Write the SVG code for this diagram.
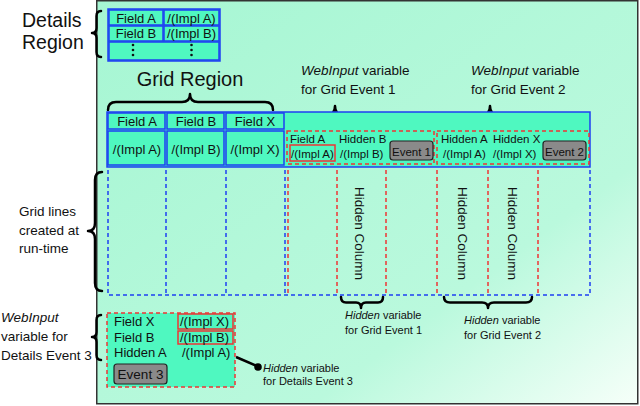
<svg xmlns="http://www.w3.org/2000/svg" width="640" height="406" viewBox="0 0 640 406">
<defs>
<linearGradient id="bg" x1="0" y1="0" x2="1" y2="1">
<stop offset="0" stop-color="#a6f6d3"/>
<stop offset="0.7" stop-color="#baf9dd"/>
<stop offset="1" stop-color="#f6fff9"/>
</linearGradient>
<style>
text{font-family:"Liberation Sans",Arial,sans-serif;fill:#111}
.aq{fill:#4ff8c0}
.cell{fill:#4ff8c0;stroke:#1e3ff2;stroke-width:1.5}
.bl{fill:none;stroke:#1e3ff2;stroke-width:1.5}
.bd{fill:none;stroke:#1e3ff2;stroke-width:1.5;stroke-dasharray:4 3}
.rd{fill:none;stroke:#ee3535;stroke-width:1.5;stroke-dasharray:4 3}
.rs{fill:none;stroke:#ee3535;stroke-width:1.5}
.br{fill:none;stroke:#000;stroke-width:2.5;stroke-linecap:round;stroke-linejoin:round}
.btn{fill:#8a8a8a;stroke:#222;stroke-width:1.2}
.f13{font-size:13px}
.f115{font-size:11.5px}
.f11{font-size:11px}
.f135{font-size:13.5px}
.c{text-anchor:middle}
</style>
</defs>
<rect x="96.75" y="0.75" width="541" height="403" fill="url(#bg)" stroke="#333" stroke-width="1.5"/>

<g id="labels">
<text x="22" y="27" style="font-size:19.5px">Details</text>
<text x="22" y="49" style="font-size:19.5px">Region</text>
<text x="190" y="86" class="c" style="font-size:20px">Grid Region</text>
<text x="301" y="75" class="f135"><tspan font-style="italic">WebInput</tspan> variable</text>
<text x="301" y="94" class="f135">for Grid Event 1</text>
<text x="471" y="75" class="f135"><tspan font-style="italic">WebInput</tspan> variable</text>
<text x="471" y="94" class="f135">for Grid Event 2</text>
<text x="19" y="216" class="f135">Grid lines</text>
<text x="19" y="234.5" class="f135">created at</text>
<text x="19" y="253" class="f135">run-time</text>
<text x="345" y="319" class="f11"><tspan font-style="italic">Hidden</tspan> variable</text>
<text x="345" y="334" class="f11">for Grid Event 1</text>
<text x="464" y="324" class="f11"><tspan font-style="italic">Hidden</tspan> variable</text>
<text x="464" y="339" class="f11">for Grid Event 2</text>
<text x="1" y="322" class="f135"><tspan font-style="italic">WebInput</tspan></text>
<text x="1" y="341" class="f135">variable for</text>
<text x="1" y="360" class="f135">Details Event 3</text>
<text x="263" y="372" class="f11"><tspan font-style="italic">Hidden</tspan> variable</text>
<text x="263" y="385" class="f11">for Details Event 3</text>
</g>

<g id="braces">
<path class="br" d="M101,11 Q96.5,11 96.5,16 L96.5,28 Q96.5,33 92,33 Q96.5,33 96.5,38 L96.5,52 Q96.5,57 101,57"/>
<path class="br" d="M108,110 Q108,102 116,102 L182,102 Q190,102 190,94 Q190,102 198,102 L265,102 Q273,102 273,110"/>
<path class="br" d="M288,123 Q288,115 296,115 L327,115 Q335,115 335,106 Q335,115 343,115 L374,115 Q382,115 382,123"/>
<path class="br" d="M443,123 Q443,115 451,115 L482,115 Q490,115 490,106 Q490,115 498,115 L530,115 Q538,115 538,123"/>
<path class="br" d="M102,172 Q95,172 95,180 L95,223 Q95,231 88,231 Q95,231 95,239 L95,283 Q95,291 102,291"/>
<path class="br" d="M341,297 Q341,302.5 346,302.5 L356,302.5 Q361,302.5 361,308 Q361,302.5 366,302.5 L378,302.5 Q383,302.5 383,297"/>
<path class="br" d="M444,297 Q444,302.5 450,302.5 L482,302.5 Q488,302.5 488,308 Q488,302.5 494,302.5 L526,302.5 Q532,302.5 532,297"/>
<path class="br" d="M101,315 Q96.5,315 96.5,320 L96.5,332 Q96.5,337 92,337 Q96.5,337 96.5,342 L96.5,355 Q96.5,360 101,360"/>
</g>

<g id="details-region">
<rect class="cell" x="108" y="9" width="112" height="52"/>
<rect class="cell" x="109" y="10" width="54" height="15"/>
<rect class="cell" x="164" y="10" width="55" height="15"/>
<rect class="cell" x="109" y="26" width="54" height="15"/>
<rect class="cell" x="164" y="26" width="55" height="15"/>
<rect class="cell" x="109" y="42" width="110" height="18"/>
<text x="136" y="22.5" class="f13 c">Field A</text>
<text x="191.5" y="22.5" class="f13 c">/(Impl A)</text>
<text x="136" y="38" class="f13 c">Field B</text>
<text x="191.5" y="38" class="f13 c">/(Impl B)</text>
<g fill="#111">
<circle cx="133" cy="45" r="1.3"/><circle cx="133" cy="50" r="1.3"/><circle cx="133" cy="55" r="1.3"/>
<circle cx="191.5" cy="45" r="1.3"/><circle cx="191.5" cy="50" r="1.3"/><circle cx="191.5" cy="55" r="1.3"/>
</g>
</g>

<g id="grid-header">
<rect class="cell" x="107" y="112" width="483" height="55"/>
<rect class="cell" x="108" y="113" width="57" height="16"/>
<rect class="cell" x="167" y="113" width="57" height="16"/>
<rect class="cell" x="226" y="113" width="58" height="16"/>
<rect class="cell" x="108" y="131" width="57" height="34"/>
<rect class="cell" x="167" y="131" width="57" height="34"/>
<rect class="cell" x="226" y="131" width="58" height="34"/>
<text x="137" y="126" class="f13 c">Field A</text>
<text x="196" y="126" class="f13 c">Field B</text>
<text x="255" y="126" class="f13 c">Field X</text>
<text x="137" y="153.5" class="f13 c">/(Impl A)</text>
<text x="196" y="153.5" class="f13 c">/(Impl B)</text>
<text x="255" y="153.5" class="f13 c">/(Impl X)</text>
</g>

<g id="grid-event-1">
<rect class="rd" x="287" y="131" width="147" height="33"/>
<rect class="rs" x="290" y="145" width="45" height="16"/>
<text x="290" y="143" class="f115">Field A</text>
<text x="291" y="157.5" class="f115">/(Impl A)</text>
<text x="339" y="143" class="f115">Hidden B</text>
<text x="340" y="157.5" class="f115">/(Impl B)</text>
<rect class="btn" x="390" y="141" width="43" height="19" rx="3"/>
<text x="411.5" y="155.5" class="f115 c">Event 1</text>
</g>

<g id="grid-event-2">
<rect class="rd" x="437" y="131" width="152" height="33"/>
<text x="441" y="143" class="f115">Hidden A</text>
<text x="443" y="157.5" class="f115">/(Impl A)</text>
<text x="493" y="143" class="f115">Hidden X</text>
<text x="493" y="157.5" class="f115">/(Impl X)</text>
<rect class="btn" x="543" y="141" width="43" height="19" rx="3"/>
<text x="564.5" y="155.5" class="f115 c">Event 2</text>
</g>

<g id="grid-lines">
<path class="bd" d="M108,170 V295 H590 V170 M166,170 V295 M226,170 V295 M285,170 V295"/>
<path class="rd" d="M288,170 V295 M337,170 V295 M386,170 V295 M437,170 V295 M488,170 V295 M538,170 V295"/>
<text class="f135" transform="translate(355,187) rotate(90)">Hidden Column</text>
<text class="f135" transform="translate(458,187) rotate(90)">Hidden Column</text>
<text class="f135" transform="translate(508,187) rotate(90)">Hidden Column</text>
</g>

<g id="details-event-3">
<rect class="aq" x="107" y="313" width="128" height="74"/>
<rect class="rd" x="107" y="313" width="128" height="74"/>
<rect class="rs" x="178" y="314" width="55" height="15"/>
<rect class="rs" x="178" y="331" width="55" height="13"/>
<text x="114" y="326" class="f13">Field X</text>
<text x="114" y="342" class="f13">Field B</text>
<text x="114" y="357" class="f13">Hidden A</text>
<text x="180" y="325.5" class="f13">/(Impl X)</text>
<text x="180" y="341.5" class="f13">/(Impl B)</text>
<text x="182" y="357" class="f13">/(Impl A)</text>
<rect class="btn" x="114" y="364" width="53" height="20" rx="3"/>
<text x="140.5" y="379" class="f135 c">Event 3</text>
</g>

<g id="connectors">
<line x1="236" y1="357" x2="257" y2="366" stroke="#000" stroke-width="2.5"/>
<circle cx="258" cy="367" r="3.8" fill="#000"/>
</g>
</svg>
